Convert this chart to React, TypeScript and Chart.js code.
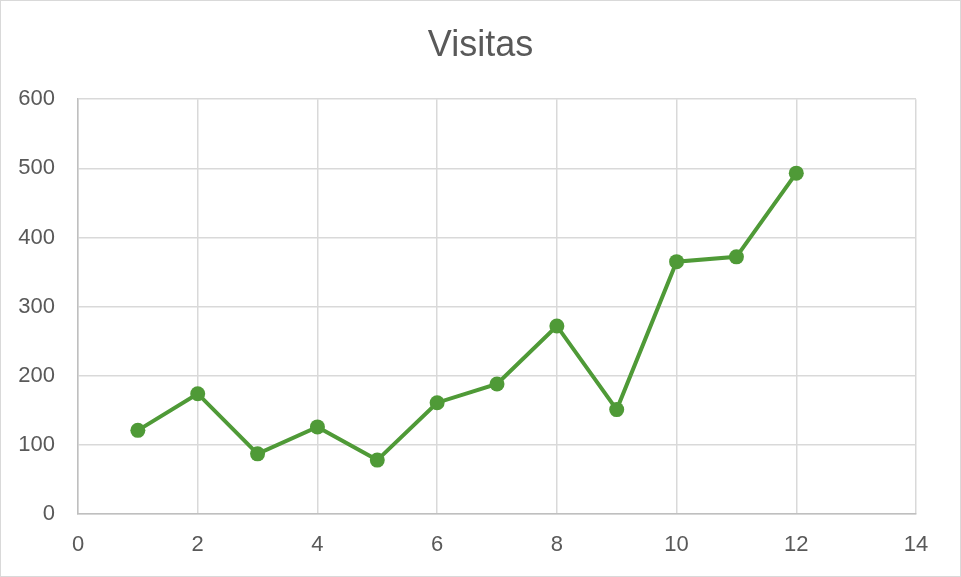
import React, { useEffect, useRef } from "react";
import { Chart, registerables } from "chart.js";

Chart.register(...registerables);

const xValues = [1, 2, 3, 4, 5, 6, 7, 8, 9, 10, 11, 12];
const visitas = [121, 174, 87, 126, 78, 161, 188, 272, 151, 365, 372, 493];
const chartTitle = "Visitas";

const FONT = "'Liberation Sans', Arial, sans-serif";
const TEXT = "#595959";
const GREEN = "#4f9a37";

const borderPlugin = {
  id: "outerBorder",
  beforeDraw(chart: any) {
    const { ctx, width, height } = chart;
    ctx.save();
    ctx.fillStyle = "#ffffff";
    ctx.fillRect(0, 0, width, height);
    ctx.strokeStyle = "#d9d9d9";
    ctx.lineWidth = 1;
    ctx.strokeRect(0.5, 0.5, width - 1, height - 1);
    ctx.restore();
  },
};

export default function App() {
  const ref = useRef<HTMLCanvasElement>(null);
  useEffect(() => {
    document.body.style.margin = "0";
    const data = xValues.map((x, i) => ({ x, y: visitas[i] }));
    const chart = new Chart(ref.current!, {
      type: "scatter",
      data: {
        datasets: [
          {
            label: chartTitle,
            data,
            showLine: true,
            borderColor: GREEN,
            backgroundColor: GREEN,
            borderWidth: 4,
            pointRadius: 7.5,
            pointHoverRadius: 7.5,
            pointBorderWidth: 0,
            yAxisID: "y",
          },
        ],
      },
      options: {
        responsive: false,
        animation: false,
        layout: { padding: { top: 3, left: 0, right: 0, bottom: 0 } },
        plugins: {
          legend: { display: false },
          tooltip: { enabled: false },
          title: {
            display: true,
            text: chartTitle,
            color: TEXT,
            font: { family: FONT, size: 36, weight: "normal" },
            padding: { top: 21, bottom: 32 },
          },
        },
        scales: {
          x: {
            type: "linear",
            min: 0,
            max: 14,
            ticks: {
              stepSize: 2,
              color: TEXT,
              font: { family: FONT, size: 22 },
              padding: 18,
              maxRotation: 0,
            },
            grid: { color: "#d9d9d9", lineWidth: 1.5, drawTicks: false },
            border: { color: "#bfbfbf", width: 1.5 },
            afterFit(scale: any) {
              scale.height = 63;
            },
          },
          y: {
            min: 0,
            max: 600,
            ticks: {
              stepSize: 100,
              color: TEXT,
              font: { family: FONT, size: 22 },
              padding: 23,
            },
            grid: { color: "#d9d9d9", lineWidth: 1.5, drawTicks: false },
            border: { color: "#bfbfbf", width: 1.5 },
            afterFit(scale: any) {
              scale.width = 78;
            },
          },
          yRight: {
            position: "right",
            min: 0,
            max: 600,
            ticks: { display: false },
            grid: { display: false, drawOnChartArea: false, drawTicks: false },
            border: { display: false },
            afterFit(scale: any) {
              scale.width = 45;
            },
          },
        },
      },
      plugins: [borderPlugin],
    });
    return () => chart.destroy();
  }, []);
  return (
    <div style={{ width: 961, height: 577 }}>
      <canvas ref={ref} width={961} height={577} />
    </div>
  );
}
